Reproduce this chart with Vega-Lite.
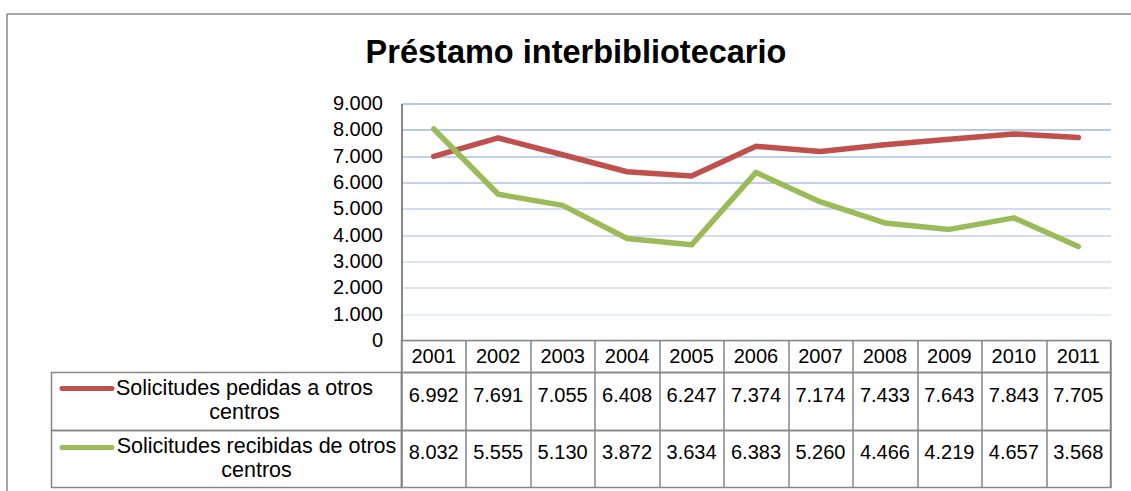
{
  "$schema": "https://vega.github.io/schema/vega-lite/v6.json",
  "background": "white",
  "autosize": {"type": "pad"},
  "padding": {"left": 3.5, "top": 13.5, "right": 0, "bottom": 0},
  "columns": 2,
  "spacing": 0,
  "bounds": "flush",
  "datasets": {
    "datos": [
      {"anio": "2001", "serie": "Solicitudes pedidas a otros centros", "valor": 6992},
      {"anio": "2002", "serie": "Solicitudes pedidas a otros centros", "valor": 7691},
      {"anio": "2003", "serie": "Solicitudes pedidas a otros centros", "valor": 7055},
      {"anio": "2004", "serie": "Solicitudes pedidas a otros centros", "valor": 6408},
      {"anio": "2005", "serie": "Solicitudes pedidas a otros centros", "valor": 6247},
      {"anio": "2006", "serie": "Solicitudes pedidas a otros centros", "valor": 7374},
      {"anio": "2007", "serie": "Solicitudes pedidas a otros centros", "valor": 7174},
      {"anio": "2008", "serie": "Solicitudes pedidas a otros centros", "valor": 7433},
      {"anio": "2009", "serie": "Solicitudes pedidas a otros centros", "valor": 7643},
      {"anio": "2010", "serie": "Solicitudes pedidas a otros centros", "valor": 7843},
      {"anio": "2011", "serie": "Solicitudes pedidas a otros centros", "valor": 7705},
      {"anio": "2001", "serie": "Solicitudes recibidas de otros centros", "valor": 8032},
      {"anio": "2002", "serie": "Solicitudes recibidas de otros centros", "valor": 5555},
      {"anio": "2003", "serie": "Solicitudes recibidas de otros centros", "valor": 5130},
      {"anio": "2004", "serie": "Solicitudes recibidas de otros centros", "valor": 3872},
      {"anio": "2005", "serie": "Solicitudes recibidas de otros centros", "valor": 3634},
      {"anio": "2006", "serie": "Solicitudes recibidas de otros centros", "valor": 6383},
      {"anio": "2007", "serie": "Solicitudes recibidas de otros centros", "valor": 5260},
      {"anio": "2008", "serie": "Solicitudes recibidas de otros centros", "valor": 4466},
      {"anio": "2009", "serie": "Solicitudes recibidas de otros centros", "valor": 4219},
      {"anio": "2010", "serie": "Solicitudes recibidas de otros centros", "valor": 4657},
      {"anio": "2011", "serie": "Solicitudes recibidas de otros centros", "valor": 3568}
    ],
    "etiquetas": [
      {"serie": "Solicitudes pedidas a otros centros", "etiqueta": "Solicitudes pedidas a otros\ncentros"},
      {"serie": "Solicitudes recibidas de otros centros", "etiqueta": "Solicitudes recibidas de otros\ncentros"}
    ]
  },
  "concat": [
    {
      "width": 350, "height": 237,
      "view": {"stroke": null},
      "data": {"values": [{}]},
      "mark": {"type": "point", "opacity": 0},
      "encoding": {
        "x": {"datum": 0, "type": "quantitative",
          "scale": {"domain": [0, 1], "range": [-45, 1100], "nice": false, "zero": false},
          "axis": {"orient": "top", "offset": 90, "labels": false, "ticks": false, "tickSize": 0, "grid": false, "title": null, "domainColor": "#8a8a8a", "domainWidth": 1.5}},
        "y": {"datum": 0, "type": "quantitative",
          "scale": {"domain": [0, 1], "range": [390, -90], "nice": false, "zero": false},
          "axis": {"orient": "left", "offset": 45, "labels": false, "ticks": false, "tickSize": 0, "grid": false, "title": null, "domainColor": "#8a8a8a", "domainWidth": 1.5}}
      }
    },
    {
      "width": 709, "height": 237,
      "view": {"stroke": null},
      "title": {"text": "Préstamo interbibliotecario", "frame": "group", "anchor": "middle", "dx": -180, "offset": -2, "baseline": "alphabetic", "fontSize": 32.5, "fontWeight": "bold", "font": "Liberation Sans", "color": "#000000"},
      "data": {"name": "datos"},
      "mark": {"type": "line", "strokeWidth": 5.5, "strokeCap": "round", "strokeJoin": "round"},
      "encoding": {
        "x": {"field": "anio", "type": "ordinal", "scale": {"type": "band", "paddingInner": 0, "paddingOuter": 0}, "axis": null},
        "y": {"field": "valor", "type": "quantitative",
          "scale": {"domain": [0, 9000], "nice": false},
          "axis": {"title": null, "values": [0, 1000, 2000, 3000, 4000, 5000, 6000, 7000, 8000, 9000],
            "labelExpr": "replace(format(datum.value, ','), ',', '.')",
            "labelFontSize": 20, "labelColor": "#000000", "labelPadding": 19, "ticks": false, "tickSize": 0,
            "domainColor": "#868686", "domainWidth": 2, "grid": true, "gridWidth": 1.5,
            "gridColor": {"condition": [
              {"test": "datum.value >= 8000", "value": "#9db7e1"},
              {"test": "datum.value >= 6000", "value": "#adc2e6"},
              {"test": "datum.value >= 4000", "value": "#c0d0ec"},
              {"test": "datum.value >= 2000", "value": "#d2ddf1"}
            ], "value": "#dfe7f5"}}},
        "color": {"field": "serie", "type": "nominal",
          "scale": {"domain": ["Solicitudes pedidas a otros centros", "Solicitudes recibidas de otros centros"], "range": ["#c0504d", "#9bbb59"]},
          "legend": null}
      }
    },
    {
      "width": 350, "height": 32,
      "view": {"stroke": null},
      "data": {"values": [{}]},
      "mark": {"type": "point", "opacity": 0}
    },
    {
      "width": 709, "height": 32,
      "data": {"name": "datos"},
      "transform": [{"filter": "datum.serie === 'Solicitudes pedidas a otros centros'"}],
      "mark": {"type": "text", "fontSize": 20, "color": "#000000"},
      "encoding": {
        "x": {"field": "anio", "type": "ordinal", "scale": {"type": "band", "paddingInner": 0, "paddingOuter": 0},
          "axis": {"title": null, "labels": false, "ticks": false, "domain": false, "grid": true, "tickBand": "extent", "gridColor": "#868686", "gridWidth": 1.5}},
        "text": {"field": "anio"}
      }
    },
    {
      "width": 350, "height": 58,
      "view": {"stroke": "#868686", "strokeWidth": 1.5},
      "data": {"name": "etiquetas"},
      "transform": [{"filter": "datum.serie === 'Solicitudes pedidas a otros centros'"}],
      "encoding": {
        "y": {"field": "serie", "type": "nominal", "axis": null}
      },
      "layer": [
        {"mark": {"type": "text", "fontSize": 21.5, "color": "#000000", "align": "center", "lineBreak": "\n", "lineHeight": 24, "dx": 18, "dy": -13},
         "encoding": {"text": {"field": "etiqueta"}}},
        {"mark": {"type": "point", "shape": "M-5.483,-0.433H-3.817", "size": 3600, "strokeWidth": 5, "filled": false, "opacity": 1, "strokeCap": "round"},
         "encoding": {"color": {"field": "serie", "type": "nominal",
           "scale": {"domain": ["Solicitudes pedidas a otros centros", "Solicitudes recibidas de otros centros"], "range": ["#c0504d", "#9bbb59"]},
           "legend": null}}}
      ]
    },
    {
      "width": 709, "height": 58,
      "data": {"name": "datos"},
      "transform": [{"filter": "datum.serie === 'Solicitudes pedidas a otros centros'"}],
      "mark": {"type": "text", "fontSize": 20, "color": "#000000", "dy": -6},
      "encoding": {
        "x": {"field": "anio", "type": "ordinal", "scale": {"type": "band", "paddingInner": 0, "paddingOuter": 0},
          "axis": {"title": null, "labels": false, "ticks": false, "domain": false, "grid": true, "tickBand": "extent", "gridColor": "#868686", "gridWidth": 1.5}},
        "text": {"field": "valor", "type": "quantitative", "format": ","}
      }
    },
    {
      "width": 350, "height": 57,
      "view": {"stroke": "#868686", "strokeWidth": 1.5},
      "data": {"name": "etiquetas"},
      "transform": [{"filter": "datum.serie === 'Solicitudes recibidas de otros centros'"}],
      "encoding": {
        "y": {"field": "serie", "type": "nominal", "axis": null}
      },
      "layer": [
        {"mark": {"type": "text", "fontSize": 21.5, "color": "#000000", "align": "center", "lineBreak": "\n", "lineHeight": 24, "dx": 30, "dy": -12},
         "encoding": {"text": {"field": "etiqueta"}}},
        {"mark": {"type": "point", "shape": "M-5.483,-0.383H-3.817", "size": 3600, "strokeWidth": 5, "filled": false, "opacity": 1, "strokeCap": "round"},
         "encoding": {"color": {"field": "serie", "type": "nominal",
           "scale": {"domain": ["Solicitudes pedidas a otros centros", "Solicitudes recibidas de otros centros"], "range": ["#c0504d", "#9bbb59"]},
           "legend": null}}}
      ]
    },
    {
      "width": 709, "height": 57,
      "data": {"name": "datos"},
      "transform": [{"filter": "datum.serie === 'Solicitudes recibidas de otros centros'"}],
      "mark": {"type": "text", "fontSize": 20, "color": "#000000", "dy": -6},
      "encoding": {
        "x": {"field": "anio", "type": "ordinal", "scale": {"type": "band", "paddingInner": 0, "paddingOuter": 0},
          "axis": {"title": null, "labels": false, "ticks": false, "domain": false, "grid": true, "tickBand": "extent", "gridColor": "#868686", "gridWidth": 1.5}},
        "text": {"field": "valor", "type": "quantitative", "format": ","}
      }
    }
  ],
  "resolve": {"scale": {"x": "independent", "y": "independent", "color": "shared"}},
  "config": {
    "font": "Liberation Sans",
    "locale": {"number": {"decimal": ",", "thousands": ".", "grouping": [3], "currency": ["", " €"]}},
    "view": {"stroke": "#868686", "strokeWidth": 1.5},
    "text": {"font": "Liberation Sans", "fontSize": 20},
    "axis": {"labelFont": "Liberation Sans"}
  }
}
